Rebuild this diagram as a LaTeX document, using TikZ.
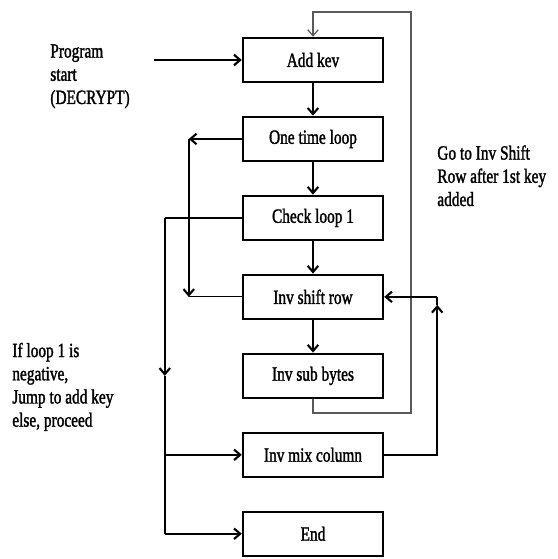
\documentclass[tikz,border=0pt]{standalone}
\usepackage{fontspec}
\setmainfont{Liberation Serif}[FakeStretch=0.76, FakeBold=1.5]
\usetikzlibrary{positioning, arrows.meta, calc}

\begin{document}
\begin{tikzpicture}[
    stepbox/.style = {
      rectangle, draw, line width = 1.4pt,
      minimum width = 2.8cm, minimum height = 0.88cm,
      font = \fontsize{11.5}{13}\selectfont
    },
    note/.style = {
      align = left, inner sep = 0pt,
      font = \fontsize{11.5}{13.2}\selectfont
    },
    arr/.style   = {-{Straight Barb[length=3.5pt, width=6pt]}, line width = 1.2pt},
    thinl/.style = {line width = 0.7pt},
    grayl/.style = {line width = 0.7pt, black!65}
  ]

  \useasboundingbox (0,0) rectangle (11.14,-11.18);

  % Cadena principal
  \node[stepbox] at (6.26,-1.2) (addkey) {Add kev};
  \node[stepbox, below = 0.65cm of addkey]   (onetime)  {One time loop};
  \node[stepbox, below = 0.65cm of onetime]  (check)    {Check loop 1};
  \node[stepbox, below = 0.65cm of check]    (shiftrow) {Inv shift row};
  \node[stepbox, below = 0.65cm of shiftrow] (subbytes) {Inv sub bytes};
  \node[stepbox, below = 0.65cm of subbytes] (mixcol)   {Inv mix column};
  \node[stepbox, below = 0.65cm of mixcol]   (endbox)   {End};

  % Textos
  \node[note, anchor = north west] at (1.0,-0.88) (start)
    {Program\\start\\(DECRYPT)};
  \node[note, anchor = north west] at (8.74,-2.9) (gonote)
    {Go to Inv Shift\\Row after 1st key\\added};
  \node[note, anchor = north west] at (0.24,-6.85) (ifnote)
    {If loop 1 is\\negative,\\Jump to add key\\else, proceed};

  % Puntos de giro
  \coordinate (pstart) at ($(addkey.west) + (-1.76,0)$);
  \coordinate (otl)    at ($(onetime.west) + (-1.06,0)$);
  \coordinate (chk)    at ($(check.west) + (-1.54,0)$);
  \coordinate (mixup)  at ($(shiftrow.east) + (1.06,0)$);
  \coordinate (rtop)   at (8.22,-0.24);
  \coordinate (rbot)   at ($(subbytes.south) + (0,-0.28)$);

  % Conexiones verticales
  \draw[arr] (pstart)   -- (addkey.west);
  \draw[arr] (addkey)   -- (onetime);
  \draw[arr] (onetime)  -- (check);
  \draw[arr] (check)    -- (shiftrow);
  \draw[arr] (shiftrow) -- (subbytes);

  % Lazo de la izquierda
  \draw[arr]   (onetime.west) -- (otl);
  \draw[arr]   (otl) -- (otl |- shiftrow.west);
  \draw[thinl] (otl |- shiftrow.west) -- (shiftrow.west);

  \draw[thinl] (check.west) -- (chk);
  \draw[arr]   (chk) -- (chk |- subbytes.west);
  \draw[line width = 1.2pt] (chk |- subbytes.west) -- (chk |- endbox.west);
  \draw[arr]   (chk |- mixcol.west) -- (mixcol.west);
  \draw[arr]   (chk |- endbox.west) -- (endbox.west);

  % Lazos de la derecha
  \draw[grayl, -{Straight Barb[length=3.5pt, width=6pt]}]
    (subbytes.south) -- (rbot) -- (rbot -| rtop) -- (rtop) -| (addkey.north);
  \draw[arr] (mixcol.east) -| ($(mixup) + (0,-0.16)$);
  \draw[arr] (mixup) -- (shiftrow.east);
  \draw[line width = 1.2pt] ($(mixup) + (0,-0.16)$) -- (mixup);

\end{tikzpicture}
\end{document}
